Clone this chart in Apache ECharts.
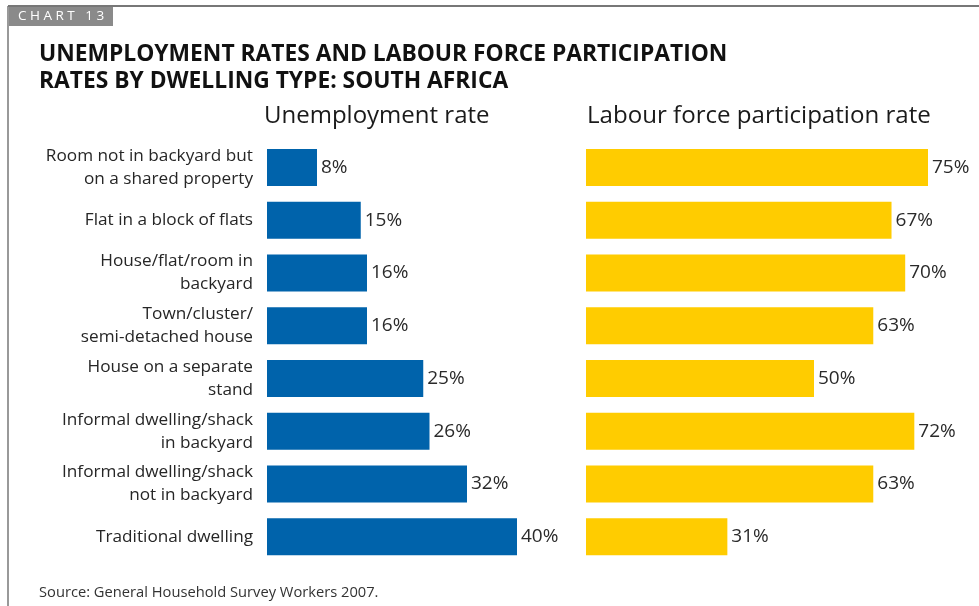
<!DOCTYPE html>
<html>
<head>
<meta charset="utf-8">
<script src="https://cdn.jsdelivr.net/npm/echarts@6/dist/echarts.min.js"></script>
<style>
  html, body { margin: 0; padding: 0; background: #fff; }
  #chart { width: 979px; height: 606px; }
</style>
</head>
<body>
<div id="chart"></div>
<script>
// Dwelling types, top to bottom
const dwellingTypes = [
  'Room not in backyard but\non a shared property',
  'Flat in a block of flats',
  'House/flat/room in\nbackyard',
  'Town/cluster/\nsemi-detached house',
  'House on a separate\nstand',
  'Informal dwelling/shack\nin backyard',
  'Informal dwelling/shack\nnot in backyard',
  'Traditional dwelling'
];
// Unemployment rate (%)
const unemploymentRate = [8, 15, 16, 16, 25, 26, 32, 40];
// Labour force participation rate (%)
const participationRate = [75, 67, 70, 63, 50, 72, 63, 31];

const FONT = '"Open Sans", "DejaVu Sans", sans-serif';
const chart = echarts.init(document.getElementById('chart'), null, { renderer: 'canvas' });

const valueLabel = {
  show: true,
  position: 'right',
  distance: 4,
  formatter: '{c}%',
  color: '#2a2a2a',
  fontFamily: FONT,
  fontSize: 19
};

chart.setOption({
  animation: false,
  backgroundColor: '#fff',
  title: [
    {
      text: 'UNEMPLOYMENT RATES AND LABOUR FORCE PARTICIPATION\nRATES BY DWELLING TYPE: SOUTH AFRICA',
      left: 34, top: 36,
      textStyle: { fontFamily: FONT, fontWeight: 'bold', fontSize: 22.8, color: '#111', lineHeight: 27 }
    },
    {
      text: 'Unemployment rate',
      left: 259, top: 99,
      textStyle: { fontFamily: FONT, fontWeight: 'normal', fontSize: 24, color: '#1a1a1a' }
    },
    {
      text: 'Labour force participation rate',
      left: 582, top: 99,
      textStyle: { fontFamily: FONT, fontWeight: 'normal', fontSize: 24.1, color: '#1a1a1a' }
    },
    {
      text: 'Source: General Household Survey Workers 2007.',
      left: 34, top: 580,
      textStyle: { fontFamily: FONT, fontWeight: 'normal', fontSize: 14.7, color: '#333' }
    }
  ],
  graphic: [
    { type: 'line', shape: { x1: 8, y1: 6, x2: 979, y2: 6 }, style: { stroke: '#777', lineWidth: 2 } },
    { type: 'line', shape: { x1: 8, y1: 6, x2: 8, y2: 606 }, style: { stroke: '#777', lineWidth: 1.5 } },
    { type: 'rect', shape: { x: 9, y: 7, width: 104, height: 19 }, style: { fill: '#8a8a8a' } },
    {
      type: 'text', left: 18, top: 9,
      style: { text: 'C H A R T   1 3', fill: '#fff', font: '13.5px ' + FONT }
    }
  ],
  grid: [
    { left: 267, width: 250, top: 141, height: 422 },
    { left: 586, width: 342, top: 141, height: 422 }
  ],
  xAxis: [
    { gridIndex: 0, type: 'value', min: 0, max: 40, show: false },
    { gridIndex: 1, type: 'value', min: 0, max: 75, show: false }
  ],
  yAxis: [
    {
      gridIndex: 0, type: 'category', data: dwellingTypes, inverse: true,
      axisLine: { show: false }, axisTick: { show: false },
      axisLabel: {
        margin: 14, color: '#262626', fontFamily: FONT, fontSize: 17.2, lineHeight: 23, align: 'right'
      }
    },
    {
      gridIndex: 1, type: 'category', data: dwellingTypes, inverse: true, show: false
    }
  ],
  series: [
    {
      type: 'bar', xAxisIndex: 0, yAxisIndex: 0, data: unemploymentRate,
      barWidth: 37, itemStyle: { color: '#0063ab' }, label: valueLabel
    },
    {
      type: 'bar', xAxisIndex: 1, yAxisIndex: 1, data: participationRate,
      barWidth: 37, itemStyle: { color: '#ffcc00' }, label: valueLabel
    }
  ]
});
</script>
</body>
</html>
